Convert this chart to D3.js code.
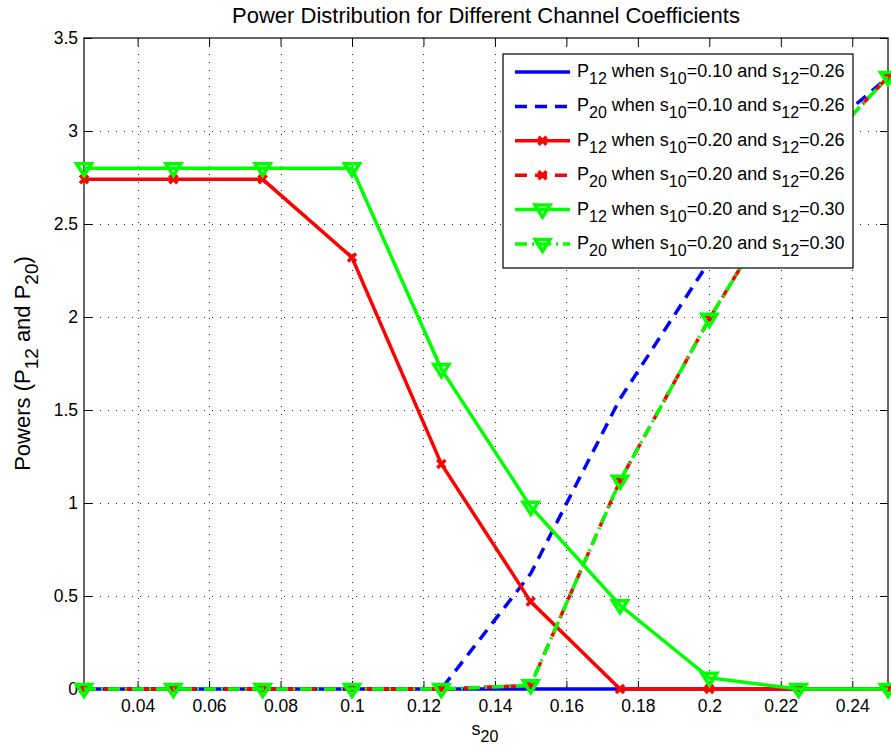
<!DOCTYPE html>
<html>
<head>
<meta charset="utf-8">
<script src="https://cdn.jsdelivr.net/npm/d3@7"></script>
<style>
  body { margin: 0; background: #fff; }
  text { font-family: "Liberation Sans", Arial, Helvetica, sans-serif; fill: #000; }
</style>
</head>
<body>
<script>
// s20 values on the x axis
var s20 = [0.025, 0.05, 0.075, 0.1, 0.125, 0.15, 0.175, 0.2, 0.225, 0.25];

// powers
var p12Blue  = [0, 0, 0, 0, 0, 0, 0, 0, 0, 0];
var p20Blue  = [0, 0, 0, 0, 0, 0.62, 1.56, 2.30, 2.88, 3.29];
var p12Red   = [2.74, 2.74, 2.74, 2.32, 1.21, 0.47, 0, 0, 0, 0];
var p20Red   = [0, 0, 0, 0, 0, 0.02, 1.12, 1.99, 2.78, 3.29];
var p12Green = [2.80, 2.80, 2.80, 2.80, 1.72, 0.98, 0.45, 0.06, 0, 0];
var p20Green = [0, 0, 0, 0, 0, 0.02, 1.12, 1.99, 2.78, 3.29];

var xTicks = [0.04, 0.06, 0.08, 0.1, 0.12, 0.14, 0.16, 0.18, 0.2, 0.22, 0.24];
var yTicks = [0, 0.5, 1, 1.5, 2, 2.5, 3, 3.5];

var legendLabels = [
  "P_{12} when s_{10}=0.10 and s_{12}=0.26",
  "P_{20} when s_{10}=0.10 and s_{12}=0.26",
  "P_{12} when s_{10}=0.20 and s_{12}=0.26",
  "P_{20} when s_{10}=0.20 and s_{12}=0.26",
  "P_{12} when s_{10}=0.20 and s_{12}=0.30",
  "P_{20} when s_{10}=0.20 and s_{12}=0.30"
];

var series = [
  {values: p12Blue,  color: "#0000ff", dash: null,       marker: null},
  {values: p20Blue,  color: "#0000ff", dash: "12,8",     marker: null},
  {values: p12Red,   color: "#ff0000", dash: null,       marker: "x"},
  {values: p20Red,   color: "#ff0000", dash: "12,8",     marker: "x"},
  {values: p12Green, color: "#00ff00", dash: null,       marker: "v"},
  {values: p20Green, color: "#00ff00", dash: "12,5,2,5", marker: "v"}
];

var w = 891, h = 750;
var pl = 84, pr = 888, pt = 38, pb = 689;

var svg = d3.select("body").append("svg")
    .attr("width", w)
    .attr("height", h);

var x = d3.scaleLinear().domain([0.025, 0.25]).range([pl, pr]);
var y = d3.scaleLinear().domain([0, 3.5]).range([pb, pt]);

// write text with _{..} subscripts
function richText(sel, str, size, subSize, shift) {
  var parts = str.split(/_\{([^}]*)\}/);
  parts.forEach(function(p, i) {
    if (p === "") return;
    var sub = i % 2 === 1;
    var dy = sub ? shift : (i > 1 ? -shift : 0);
    sel.append("tspan")
      .attr("font-size", sub ? subSize : size)
      .attr("dy", dy)
      .text(p);
  });
}

// grid
var grid = svg.append("g").attr("stroke", "#222").attr("stroke-width", 1)
    .attr("stroke-dasharray", "1,7");
grid.selectAll(".gx").data(xTicks).enter().append("line")
    .attr("x1", function(d) { return Math.round(x(d)) + 0.5; })
    .attr("x2", function(d) { return Math.round(x(d)) + 0.5; })
    .attr("y1", pt).attr("y2", pb);
grid.selectAll(".gy").data(yTicks.slice(1, -1)).enter().append("line")
    .attr("y1", function(d) { return Math.round(y(d)) + 0.5; })
    .attr("y2", function(d) { return Math.round(y(d)) + 0.5; })
    .attr("x1", pl).attr("x2", pr);

// axes with inward ticks
var tl = 8;
svg.append("g").attr("transform", "translate(0," + pb + ")")
    .call(d3.axisBottom(x).tickValues(xTicks).tickSize(-tl).tickPadding(11)
      .tickFormat(function(d) { return String(+d.toFixed(2)); }))
    .call(function(g) {
      g.select(".domain").remove();
      g.selectAll("text").attr("font-size", 17.5).attr("font-family", "Liberation Sans, Arial, sans-serif");
    });
svg.append("g").attr("transform", "translate(0," + pt + ")")
    .call(d3.axisTop(x).tickValues(xTicks).tickSize(-tl).tickFormat(""))
    .call(function(g) { g.select(".domain").remove(); });
svg.append("g").attr("transform", "translate(" + pl + ",0)")
    .call(d3.axisLeft(y).tickValues(yTicks).tickSize(-tl).tickPadding(6)
      .tickFormat(function(d) { return String(d); }))
    .call(function(g) {
      g.select(".domain").remove();
      g.selectAll("text").attr("font-size", 17.5).attr("font-family", "Liberation Sans, Arial, sans-serif");
    });
svg.append("g").attr("transform", "translate(" + pr + ",0)")
    .call(d3.axisRight(y).tickValues(yTicks).tickSize(-tl).tickFormat(""))
    .call(function(g) { g.select(".domain").remove(); });

svg.append("rect")
    .attr("x", pl).attr("y", pt)
    .attr("width", pr - pl).attr("height", pb - pt)
    .attr("fill", "none").attr("stroke", "#000").attr("stroke-width", 1.2);

// lines and markers
var line = d3.line()
    .x(function(d, i) { return x(s20[i]); })
    .y(function(d) { return y(d); });

var triPath = "M-7.5,-4.5L7.5,-4.5L0,7.5Z";
var xPath = "M-4,-4L4,4M-4,4L4,-4";

function drawMarker(g, type, color) {
  if (type === "x") {
    g.append("path").attr("d", xPath).attr("stroke", color)
      .attr("stroke-width", 3.5).attr("fill", "none");
  } else if (type === "v") {
    g.append("path").attr("d", triPath).attr("stroke", color)
      .attr("stroke-width", 3.5).attr("stroke-linejoin", "miter").attr("fill", "none");
  }
}

var plot = svg.append("g");
series.forEach(function(s) {
  plot.append("path")
    .datum(s.values)
    .attr("d", line)
    .attr("fill", "none")
    .attr("stroke", s.color)
    .attr("stroke-width", 3.5)
    .attr("stroke-dasharray", s.dash);
  if (s.marker) {
    plot.selectAll(null).data(s.values).enter().append("g")
      .attr("transform", function(d, i) { return "translate(" + x(s20[i]) + "," + y(d) + ")"; })
      .each(function() { drawMarker(d3.select(this), s.marker, s.color); });
  }
});

// legend
var lg = svg.append("g");
lg.append("rect")
    .attr("x", 503).attr("y", 54).attr("width", 350).attr("height", 214)
    .attr("fill", "#fff").attr("stroke", "#000").attr("stroke-width", 1.2);
series.forEach(function(s, i) {
  var ry = 72 + i * 34.4;
  lg.append("line")
    .attr("x1", 515).attr("x2", 570).attr("y1", ry).attr("y2", ry)
    .attr("stroke", s.color).attr("stroke-width", 3.5)
    .attr("stroke-dasharray", s.dash);
  var m = lg.append("g").attr("transform", "translate(542.5," + ry + ")");
  drawMarker(m, s.marker, s.color);
  var t = lg.append("text").attr("x", 577).attr("y", ry + 5);
  richText(t, legendLabels[i], 18, 16, 7);
});

// title and axis labels
svg.append("text")
    .attr("x", (pl + pr) / 2).attr("y", 23)
    .attr("text-anchor", "middle").attr("font-size", 22)
    .text("Power Distribution for Different Channel Coefficients");

var xl = svg.append("text")
    .attr("x", 485).attr("y", 735)
    .attr("text-anchor", "middle");
richText(xl, "s_{20}", 18, 16, 7);

var yl = svg.append("text")
    .attr("transform", "translate(30," + ((pt + pb) / 2) + ") rotate(-90)")
    .attr("text-anchor", "middle");
richText(yl, "Powers (P_{12} and P_{20})", 22, 19, 8);
</script>
</body>
</html>
